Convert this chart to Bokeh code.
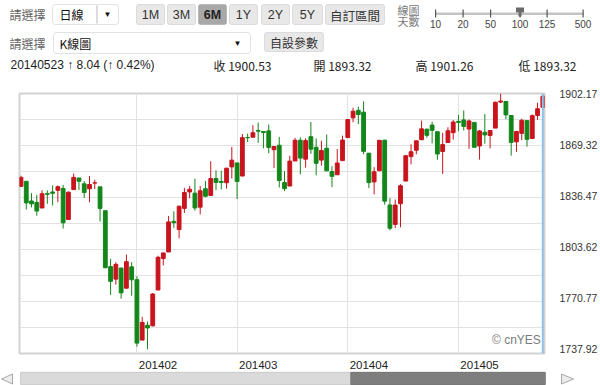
import numpy as np
from bokeh.plotting import figure
from bokeh.layouts import column
from bokeh.models import (Range1d, FixedTicker, PrintfTickFormatter, Label,
                          BoxAnnotation, Span, ColumnDataSource)
from bokeh.embed import file_html
from bokeh.resources import INLINE

# ---------------- data (S&P 500 daily K-line, 100 sessions) ----------------
dates = [
    "20131231",
    "20140102", "20140103", "20140106", "20140107", "20140108", "20140109", "20140110",
    "20140113", "20140114", "20140115", "20140116", "20140117", "20140121", "20140122",
    "20140123", "20140124", "20140127", "20140128", "20140129", "20140130", "20140131",
    "20140203", "20140204", "20140205", "20140206", "20140207", "20140210", "20140211",
    "20140212", "20140213", "20140214", "20140218", "20140219", "20140220", "20140221",
    "20140224", "20140225", "20140226", "20140227", "20140228",
    "20140303", "20140304", "20140305", "20140306", "20140307", "20140310", "20140311",
    "20140312", "20140313", "20140314", "20140317", "20140318", "20140319", "20140320",
    "20140321", "20140324", "20140325", "20140326", "20140327", "20140328", "20140331",
    "20140401", "20140402", "20140403", "20140404", "20140407", "20140408", "20140409",
    "20140410", "20140411", "20140414", "20140415", "20140416", "20140417", "20140421",
    "20140422", "20140423", "20140424", "20140425", "20140428", "20140429", "20140430",
    "20140501", "20140502", "20140505", "20140506", "20140507", "20140508", "20140509",
    "20140512", "20140513", "20140514", "20140515", "20140516", "20140519", "20140520",
    "20140521", "20140522", "20140523",
]
opens = [
    1842.61,
    1845.86, 1833.21, 1832.31, 1828.71, 1837.90, 1839.00, 1840.06,
    1841.26, 1821.36, 1840.52, 1847.99, 1844.23, 1841.05, 1844.71,
    1842.29, 1826.96, 1791.03, 1783.00, 1790.15, 1777.17, 1790.88,
    1782.68, 1743.82, 1753.38, 1752.99, 1776.01, 1796.20, 1800.45,
    1820.12, 1814.82, 1828.46, 1839.03, 1838.22, 1829.24, 1841.07,
    1836.78, 1847.66, 1845.79, 1844.90, 1855.12,
    1857.68, 1849.23, 1874.05, 1874.18, 1878.52, 1877.86, 1878.26,
    1866.15, 1869.06, 1845.07, 1842.81, 1858.92, 1872.25, 1860.09,
    1874.53, 1867.67, 1859.48, 1867.09, 1852.11, 1850.07, 1859.16,
    1873.96, 1886.61, 1891.43, 1890.25, 1863.92, 1845.48, 1852.64,
    1872.28, 1830.65, 1818.18, 1831.45, 1846.01, 1861.73, 1865.79,
    1872.57, 1879.32, 1881.97, 1877.72, 1865.00, 1870.78, 1877.10,
    1884.39, 1885.30, 1879.45, 1883.69, 1868.53, 1877.39, 1875.27,
    1880.03, 1896.75, 1897.13, 1888.16, 1871.19, 1876.66, 1884.88,
    1873.34, 1888.19, 1893.32,
]
highs = [
    1849.44,
    1845.86, 1838.24, 1837.16, 1840.10, 1840.02, 1843.23, 1843.15,
    1843.45, 1839.26, 1850.84, 1847.99, 1846.04, 1849.31, 1846.87,
    1842.29, 1826.96, 1795.98, 1793.87, 1790.15, 1798.77, 1793.88,
    1784.83, 1758.73, 1755.79, 1774.06, 1798.03, 1799.94, 1823.54,
    1826.55, 1830.25, 1841.65, 1842.87, 1847.50, 1842.79, 1846.13,
    1858.71, 1852.91, 1852.65, 1854.53, 1867.92,
    1857.68, 1876.23, 1876.53, 1881.94, 1883.57, 1877.87, 1882.35,
    1868.38, 1874.40, 1852.44, 1862.30, 1873.76, 1874.14, 1873.49,
    1883.97, 1873.34, 1871.87, 1875.92, 1855.55, 1866.63, 1875.18,
    1885.84, 1893.17, 1893.80, 1897.28, 1864.04, 1854.95, 1872.43,
    1872.53, 1835.07, 1834.19, 1844.02, 1862.31, 1869.63, 1871.89,
    1884.89, 1879.75, 1884.06, 1877.72, 1877.01, 1880.60, 1885.20,
    1888.59, 1891.33, 1885.51, 1883.69, 1878.83, 1889.07, 1878.57,
    1897.13, 1902.17, 1897.13, 1888.16, 1878.28, 1886.00, 1884.88,
    1888.80, 1896.33, 1901.26,
]
lows = [
    1842.41,
    1827.74, 1829.13, 1823.73, 1828.71, 1831.40, 1830.38, 1832.43,
    1815.52, 1821.36, 1840.52, 1840.30, 1835.23, 1832.38, 1840.88,
    1820.06, 1790.29, 1772.88, 1779.49, 1770.45, 1777.17, 1772.26,
    1739.66, 1743.82, 1737.92, 1752.63, 1776.01, 1791.83, 1800.41,
    1815.97, 1809.22, 1825.59, 1835.01, 1826.99, 1824.58, 1835.60,
    1836.78, 1840.19, 1840.66, 1841.13, 1847.67,
    1834.44, 1849.23, 1871.11, 1874.18, 1870.56, 1867.04, 1863.88,
    1854.38, 1841.86, 1839.57, 1842.81, 1858.92, 1850.35, 1854.63,
    1863.46, 1849.69, 1855.96, 1852.56, 1842.11, 1850.07, 1859.16,
    1873.96, 1883.79, 1882.65, 1863.26, 1841.48, 1837.49, 1852.38,
    1830.87, 1814.36, 1815.80, 1816.29, 1846.01, 1856.72, 1863.18,
    1872.57, 1873.91, 1870.24, 1859.70, 1850.61, 1870.78, 1872.69,
    1878.04, 1878.50, 1866.77, 1867.72, 1859.79, 1870.05, 1867.02,
    1880.03, 1896.06, 1885.77, 1862.36, 1864.82, 1872.42, 1868.14,
    1873.34, 1885.39, 1893.32,
]
closes = [
    1848.36,
    1831.98, 1831.37, 1826.77, 1837.88, 1837.49, 1838.13, 1842.37,
    1819.20, 1838.88, 1848.38, 1845.89, 1838.70, 1843.80, 1844.86,
    1828.46, 1790.29, 1781.56, 1792.50, 1774.20, 1794.19, 1782.59,
    1741.89, 1755.20, 1751.64, 1773.43, 1797.02, 1799.84, 1819.75,
    1819.26, 1829.83, 1838.63, 1840.76, 1828.75, 1839.78, 1836.25,
    1847.61, 1845.12, 1845.16, 1854.29, 1859.45,
    1845.73, 1873.91, 1873.81, 1877.03, 1878.04, 1877.17, 1867.63,
    1868.20, 1846.34, 1841.13, 1858.83, 1872.25, 1860.77, 1872.01,
    1866.52, 1857.44, 1865.62, 1852.56, 1849.04, 1857.62, 1872.34,
    1885.52, 1890.90, 1888.77, 1865.09, 1845.04, 1851.96, 1872.18,
    1833.08, 1815.69, 1830.61, 1842.98, 1862.31, 1864.85, 1871.89,
    1879.55, 1875.39, 1878.61, 1863.40, 1869.43, 1878.33, 1883.95,
    1883.68, 1881.14, 1884.66, 1867.72, 1878.21, 1875.63, 1878.48,
    1896.65, 1897.45, 1888.53, 1870.85, 1877.86, 1885.08, 1872.83,
    1888.03, 1892.49, 1900.53,
]
price_ticks = [1902.17, 1869.32, 1836.47, 1803.62, 1770.77, 1737.92]
month_labels = ["201402", "201403", "201404", "201405"]
range_buttons = ["1M", "3M", "6M", "1Y", "2Y", "5Y", "自訂區間"]
day_options = ["10", "20", "50", "100", "125", "500"]
selected_range = "6M"
selected_days = "100"

# ---------------- styles ----------------
RED = "#c8141c"
GREEN = "#13861a"
GRID = "#e2e2e2"
LATIN = "Liberation Sans"
CJK = "Noto Sans CJK TC"
W = 600
HEAD_H = 88
FOOT_H = 14
MAIN_H = 385 - HEAD_H - FOOT_H


def chrome_fig(h):
    f = figure(width=W, height=h, output_backend="svg", toolbar_location=None,
               x_axis_type=None, y_axis_type=None, min_border=0,
               x_range=Range1d(0, W), y_range=Range1d(h, 0))
    if "frame_align" in f.properties():
        f.frame_align = False
    f.outline_line_color = None
    f.grid.visible = False
    f.background_fill_color = "white"
    f.border_fill_color = "white"
    return f


def box(f, l, r, t, b, fill, line="#a0a0a0", radius=0, lw=1):
    f.add_layout(BoxAnnotation(left=l, right=r, top=t, bottom=b,
                               left_units="canvas", right_units="canvas",
                               top_units="canvas", bottom_units="canvas",
                               fill_color=fill, fill_alpha=1, line_color=line,
                               line_width=lw, border_radius=radius))


def text(f, x, y, s, size="12px", color="#333333", font=LATIN, align="left", style="normal"):
    f.add_layout(Label(x=x, y=y, x_units="canvas", y_units="canvas", text=s,
                       text_font=font, text_font_size=size, text_color=color,
                       text_align=align, text_baseline="middle",
                       text_font_style=style))


# ---------------- main K-line chart ----------------
n = len(dates)
idx = list(range(n))
colors = [RED if c >= o else GREEN for o, c in zip(opens, closes)]
src = ColumnDataSource(dict(
    x=idx, h=highs, l=lows,
    top=[max(o, c) for o, c in zip(opens, closes)],
    bottom=[min(o, c) for o, c in zip(opens, closes)],
    color=colors,
))

y_lo = min(lows) - 2.7
y_hi = max(highs) + 0.1

p = figure(width=W, height=MAIN_H, output_backend="svg", toolbar_location=None,
           x_range=Range1d(-0.28, n - 1 + 0.32), y_range=Range1d(y_lo, y_hi),
           y_axis_location="right",
           min_border_left=19, min_border_right=55, min_border_top=5, min_border_bottom=15)
p.background_fill_color = "white"
p.border_fill_color = "white"
p.outline_line_color = "#d2d2d2"
p.outline_line_width = 2

month_starts = [i for i in range(1, n)
                if dates[i][:6] != dates[i - 1][:6] and dates[i][:6] in month_labels]
p.xgrid.ticker = FixedTicker(ticks=month_starts)
p.ygrid.ticker = FixedTicker(ticks=list(np.linspace(y_lo, y_hi, 11)[1:-1]))
p.xgrid.grid_line_color = GRID
p.ygrid.grid_line_color = GRID

label_shift = 4  # month label starts just right of the month's first session
p.xaxis.ticker = FixedTicker(ticks=[m + label_shift for m in month_starts])
p.xaxis.major_label_overrides = {m + label_shift: lab for m, lab in zip(month_starts, month_labels)}
p.xaxis.axis_line_color = None
p.xaxis.major_tick_line_color = None
p.xaxis.minor_tick_line_color = None
p.xaxis.major_label_standoff = 1
p.xaxis.major_label_text_font = LATIN
p.xaxis.major_label_text_font_size = "11.5px"
p.xaxis.major_label_text_color = "#222222"

p.yaxis.ticker = FixedTicker(ticks=price_ticks)
p.yaxis.formatter = PrintfTickFormatter(format="%.2f")
p.yaxis.axis_line_color = None
p.yaxis.major_tick_line_color = None
p.yaxis.minor_tick_line_color = None
p.yaxis.major_label_standoff = 9
p.yaxis.major_label_text_font = LATIN
p.yaxis.major_label_text_font_size = "10.5px"
p.yaxis.major_label_text_color = "#333333"

p.segment(x0="x", y0="l", x1="x", y1="h", line_color="color", line_width=1, source=src)
p.vbar(x="x", top="top", bottom="bottom", width=0.72, fill_color="color",
       line_color="color", line_width=1, source=src)

p.add_layout(Span(location=n - 1, dimension="height", line_color="#8fc1e6", line_width=2))
p.add_layout(Label(x=n - 1, y=y_lo, x_offset=-2, y_offset=7, text="© cnYES",
                   text_font=LATIN, text_font_size="12px", text_color="#7a7a7a",
                   text_align="right", text_baseline="bottom"))

# ---------------- header (page controls + latest quote) ----------------
hd = chrome_fig(HEAD_H)
text(hd, 9, 14, "請選擇", color="#666666", font=CJK)
box(hd, 52, 118, 4, 24, "white", radius=3)
box(hd, 96, 97, 5, 23, "#b8b8b8", line=None)
text(hd, 59, 14, "日線", color="#111111", font=CJK)
text(hd, 107, 14, "▼", size="8px", color="#111111", align="center")

btn_x = [(136, 164), (167, 195), (198, 226), (229, 257), (261, 289), (292, 322), (325, 384)]
for (l, r), lab in zip(btn_x, range_buttons):
    sel = lab == selected_range
    box(hd, l, r, 4, 24, "#a8a8a8" if sel else "#e8e8e8",
        line="#7a7a7a" if sel else "#a6a6a6", radius=2)
    text(hd, (l + r) / 2, 14.5, lab, color="#222222" if sel else "#333333",
         font=CJK if len(lab) > 2 else LATIN, align="center",
         style="bold" if sel else "normal", size="12.5px")

text(hd, 397, 9.5, "線圖", size="11px", color="#777777", font=CJK)
text(hd, 397, 20.5, "天數", size="11px", color="#777777", font=CJK)
tick_x = [435, 462.5, 490, 519.5, 546.5, 582.5]
box(hd, 435, 583, 12, 14.5, "#c4c4c4", line=None)
for tx, lab in zip(tick_x, day_options):
    box(hd, tx - 0.5, tx + 0.7, 9, 17, "#555555", line=None)
    text(hd, tx, 23.5, lab, size="10px", color="#444444", align="center")
    if lab == selected_days:
        box(hd, tx - 4, tx + 4, 7, 12, "#6a6a6a", line=None)
        box(hd, tx - 1.5, tx + 1.5, 12, 16, "#6a6a6a", line=None)

text(hd, 9, 42.5, "請選擇", color="#666666", font=CJK)
box(hd, 53, 250, 32, 53, "white", radius=3)
text(hd, 59, 42.5, "K線圖", color="#111111", font=CJK)
text(hd, 237, 42.5, "▼", size="8px", color="#111111", align="center")
box(hd, 264, 323, 32, 51, "#e8e8e8", line="#a6a6a6", radius=2)
text(hd, 293.5, 41.5, "自設參數", color="#333333", font=CJK, align="center")

chg = closes[-1] - closes[-2]
pct = chg / closes[-2] * 100
arrow = "↑" if chg >= 0 else "↓"
text(hd, 10, 64.5, f"{dates[-1]}  {arrow} {abs(chg):.2f} ({arrow} {abs(pct):.2f}%)",
     size="12px", color="#222222")
text(hd, 213, 64.5, f"收 {closes[-1]:.2f}", size="12px", color="#222222", font=CJK)
text(hd, 313, 64.5, f"開 {opens[-1]:.2f}", size="12px", color="#222222", font=CJK)
text(hd, 415, 64.5, f"高 {highs[-1]:.2f}", size="12px", color="#222222", font=CJK)
text(hd, 518, 64.5, f"低 {lows[-1]:.2f}", size="12px", color="#222222", font=CJK)

# ---------------- footer (scrollbar) ----------------
ft = chrome_fig(FOOT_H)
box(ft, 20, 545, 0.5, 13.5, "#dadada", line="#8a8a8a", radius=1)
box(ft, 350, 545, 0.5, 13.5, "#7e7e7e", line="#5a5a5a", radius=1)
# scroll arrow icons (outlined triangles)
ft.patch(x=[1, 12, 12], y=[7.5, 2.5, 12.5], fill_color="#ececec",
         line_color="#a8a8a8", line_width=1)
ft.patch(x=[573, 561, 561], y=[7.5, 2.5, 12.5], fill_color="#ececec",
         line_color="#a8a8a8", line_width=1)

layout = column(hd, p, ft, spacing=0)
open("out.html", "w").write(file_html(layout, INLINE))
